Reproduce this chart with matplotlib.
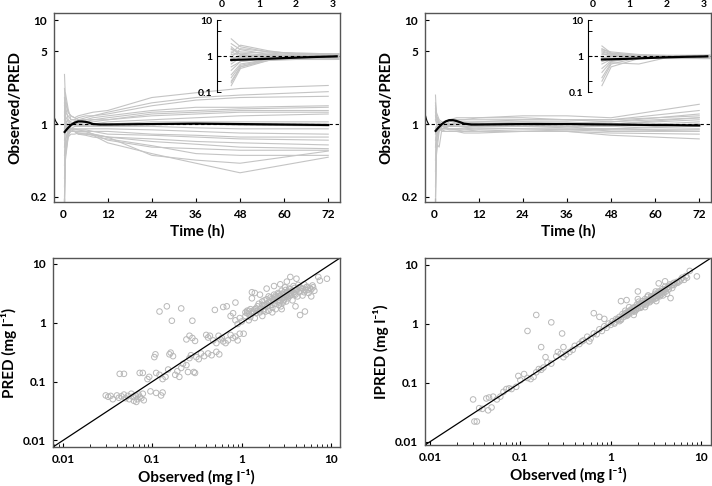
import matplotlib
matplotlib.use("Agg")
import matplotlib.pyplot as plt
from matplotlib.ticker import NullLocator, LogLocator, NullFormatter

plt.rcParams['font.family'] = ['Lato', 'DejaVu Sans']
plt.rcParams['font.weight'] = 'bold'
plt.rcParams['axes.labelweight'] = 'bold'

# ---- data ----
# sampling times (h) for individual profiles
times = [0.25, 0.5, 1.25, 2, 3, 4, 6, 8, 12, 24, 36, 48, 72]

# Observed/PRED per subject (left column)
pred_ratio = [
    [0.9, 1.6, 1.3, 1.2, 1.15, 1.2, 1.25, 1.3, 1.35, 1.8, 2.0, 2.2, 2.35],
    [1.2, 2.0, 1.4, 1.1, 1.1, 1.15, 1.2, 1.2, 1.3, 1.6, 1.8, 1.9, 2.05],
    [0.6, 0.9, 1.0, 1.0, 1.05, 1.1, 1.15, 1.2, 1.25, 1.5, 1.7, 1.8, 1.85],
    [3.0, 1.8, 1.3, 1.2, 1.15, 1.1, 1.1, 1.15, 1.2, 1.35, 1.45, 1.45, 1.5],
    [0.4, 0.7, 0.9, 1.0, 1.05, 1.1, 1.1, 1.1, 1.15, 1.3, 1.35, 1.4, 1.45],
    [1.5, 1.3, 1.2, 1.1, 1.1, 1.05, 1.05, 1.1, 1.1, 1.25, 1.3, 1.35, 1.35],
    [0.18, 0.5, 0.8, 0.95, 1.0, 1.0, 1.05, 1.05, 1.1, 1.2, 1.25, 1.3, 1.3],
    [2.2, 1.5, 1.1, 1.0, 1.0, 1.0, 1.0, 1.0, 1.05, 1.1, 1.15, 1.2, 1.25],
    [0.8, 1.0, 1.1, 1.05, 1.0, 1.0, 0.98, 1.0, 1.0, 1.05, 1.05, 1.05, 1.05],
    [1.1, 1.2, 1.05, 1.0, 0.98, 0.97, 0.97, 0.98, 1.0, 1.0, 1.0, 0.98, 0.96],
    [0.15, 0.45, 0.75, 0.9, 0.95, 0.95, 0.95, 0.95, 0.95, 0.95, 0.92, 0.9, 0.9],
    [0.5, 0.7, 0.85, 0.9, 0.9, 0.9, 0.9, 0.9, 0.9, 0.88, 0.85, 0.82, 0.8],
    [1.8, 1.1, 0.95, 0.9, 0.88, 0.88, 0.88, 0.85, 0.85, 0.8, 0.78, 0.75, 0.75],
    [0.3, 0.6, 0.8, 0.85, 0.85, 0.85, 0.85, 0.85, 0.8, 0.78, 0.75, 0.72, 0.7],
    [0.7, 0.9, 0.9, 0.85, 0.85, 0.8, 0.8, 0.8, 0.75, 0.72, 0.68, 0.66, 0.63],
    [1.3, 1.0, 0.9, 0.85, 0.85, 0.82, 0.8, 0.78, 0.75, 0.68, 0.64, 0.6, 0.58],
    [0.25, 0.55, 0.8, 0.85, 0.85, 0.85, 0.85, 0.8, 0.7, 0.6, 0.58, 0.56, 0.56],
    [0.9, 0.95, 0.9, 0.88, 0.85, 0.8, 0.78, 0.75, 0.72, 0.62, 0.52, 0.5, 0.5],
    [1.6, 1.1, 0.95, 0.9, 0.9, 0.88, 0.85, 0.8, 0.75, 0.5, 0.45, 0.42, 0.55],
    [0.2, 0.5, 0.75, 0.8, 0.8, 0.82, 0.82, 0.78, 0.66, 0.52, 0.42, 0.34, 0.48],
]

# Observed/IPRED per subject (right column)
ipred_ratio = [
    [1.5, 1.3, 1.1, 1.05, 1.05, 1.1, 1.15, 1.15, 1.15, 1.2, 1.2, 1.15, 1.55],
    [0.2, 0.6, 0.9, 1.0, 1.05, 1.1, 1.1, 1.1, 1.15, 1.15, 1.1, 1.1, 1.35],
    [1.9, 1.2, 1.05, 1.0, 1.0, 1.05, 1.1, 1.1, 1.1, 1.1, 1.1, 1.05, 1.25],
    [0.8, 0.95, 1.0, 1.0, 1.0, 1.0, 1.05, 1.05, 1.05, 1.1, 1.1, 1.1, 1.2],
    [0.15, 0.5, 0.85, 0.95, 0.98, 1.0, 1.02, 1.02, 1.05, 1.05, 1.05, 1.0, 1.15],
    [1.3, 1.1, 1.0, 0.98, 0.95, 0.97, 1.0, 1.0, 1.0, 1.05, 1.0, 1.0, 1.1],
    [0.6, 0.8, 0.9, 0.95, 0.95, 0.97, 0.98, 0.98, 1.0, 1.0, 1.0, 0.95, 1.05],
    [1.1, 1.05, 1.0, 0.95, 0.92, 0.95, 0.95, 0.95, 0.98, 0.98, 0.95, 0.95, 1.0],
    [0.35, 0.7, 0.9, 0.95, 0.95, 0.95, 0.95, 0.95, 0.95, 0.95, 0.92, 0.9, 0.95],
    [1.6, 1.2, 1.0, 0.95, 0.92, 0.9, 0.9, 0.9, 0.92, 0.9, 0.9, 0.88, 0.9],
    [0.9, 0.95, 0.95, 0.9, 0.9, 0.9, 0.88, 0.88, 0.9, 0.9, 0.88, 0.85, 0.85],
    [0.45, 0.75, 0.9, 0.9, 0.9, 0.88, 0.88, 0.85, 0.88, 0.85, 0.85, 0.82, 0.8],
    [1.2, 1.0, 0.9, 0.88, 0.85, 0.85, 0.85, 0.85, 0.85, 0.85, 0.85, 0.78, 0.72],
    [0.7, 0.85, 0.9, 0.85, 0.85, 0.85, 0.85, 0.82, 0.82, 0.85, 0.88, 0.9, 1.0],
    [1.4, 1.15, 1.05, 1.0, 1.0, 1.0, 1.0, 1.0, 1.02, 1.0, 1.02, 1.05, 1.15],
    [0.25, 0.65, 0.6, 0.9, 0.92, 0.9, 0.9, 0.92, 0.95, 0.95, 0.95, 0.85, 0.88],
]

# smoothed trend lines
trend_t = [0.3, 1, 2, 3, 4, 5, 6, 7, 8, 10, 12, 24, 36, 48, 60, 72]
trend_pred = [0.84, 0.9, 0.98, 1.03, 1.06, 1.06, 1.05, 1.03, 1.0, 0.99, 0.99, 1.0, 1.01, 1.0, 0.99, 0.98]
trend_ipred = [0.86, 0.92, 1.0, 1.06, 1.09, 1.09, 1.07, 1.04, 1.01, 0.99, 0.99, 1.0, 1.0, 0.99, 0.98, 0.97]
lead_t = [-2.5, -2.1, -1.7]
lead_pred = [1.15, 1.06, 1.01]
lead_ipred = [1.22, 1.08, 1.01]
inset_t = [0.25, 0.5, 1, 1.5, 2, 2.5, 3, 3.1]
inset_pred = [0.78, 0.79, 0.82, 0.86, 0.9, 0.94, 0.97, 0.98]
inset_ipred = [0.8, 0.81, 0.84, 0.88, 0.92, 0.95, 0.97, 0.98]

# observed vs PRED (mg/l)
obs_pred = [
    (0.030, 0.058), (0.032, 0.055), (0.034, 0.057), (0.036, 0.050), (0.040, 0.058), (0.042, 0.053),
    (0.045, 0.056), (0.048, 0.060), (0.050, 0.052), (0.053, 0.057), (0.055, 0.050), (0.058, 0.062),
    (0.060, 0.055), (0.062, 0.047), (0.065, 0.058), (0.068, 0.050), (0.070, 0.060), (0.072, 0.055),
    (0.075, 0.052), (0.078, 0.062), (0.080, 0.048), (0.066, 0.045),
    (0.043, 0.135), (0.048, 0.135), (0.072, 0.14), (0.078, 0.14), (0.088, 0.11), (0.092, 0.12),
    (0.095, 0.068), (0.11, 0.064), (0.125, 0.058), (0.13, 0.065),
    (0.105, 0.26), (0.108, 0.29), (0.11, 0.14), (0.12, 0.13), (0.13, 0.11), (0.14, 0.12), (0.15, 0.16),
    (0.155, 0.29), (0.16, 0.31), (0.17, 0.27), (0.18, 0.13), (0.19, 0.15), (0.2, 0.12), (0.21, 0.17),
    (0.22, 0.2), (0.24, 0.19), (0.25, 0.145), (0.26, 0.25), (0.27, 0.28), (0.29, 0.145), (0.3, 0.14),
    (0.31, 0.26), (0.33, 0.24), (0.35, 0.3), (0.38, 0.27), (0.42, 0.3), (0.46, 0.28), (0.52, 0.32),
    (0.56, 0.29),
    (0.12, 1.55), (0.145, 1.9), (0.165, 1.08), (0.21, 1.75), (0.28, 1.08), (0.5, 1.65), (0.62, 1.85),
    (0.68, 1.9), (0.85, 2.2),
    (0.24, 0.52), (0.26, 0.6), (0.28, 0.55), (0.3, 0.49), (0.4, 0.62), (0.42, 0.56), (0.44, 0.6),
    (0.55, 0.6), (0.58, 0.52), (0.6, 0.55), (0.62, 0.48), (0.66, 0.45), (0.7, 0.5), (0.75, 0.62),
    (0.8, 0.55), (0.85, 0.58), (0.9, 0.5), (0.95, 0.65), (0.48, 0.5), (0.52, 0.45),
    (0.75, 1.3), (0.8, 1.45), (0.85, 1.1), (0.9, 0.95), (0.95, 1.2), (1.0, 1.05), (1.05, 0.65),
    (1.1, 1.5), (1.15, 1.6), (1.2, 1.4), (1.25, 1.7), (1.3, 2.6), (1.35, 1.5), (1.4, 3.2), (1.45, 1.45),
    (1.5, 1.6), (1.55, 2.1), (1.6, 1.5), (1.65, 1.8), (1.7, 2.3), (1.75, 1.7), (1.8, 2.0), (1.85, 1.55),
    (1.9, 2.5), (1.95, 1.9), (2.0, 2.2), (2.0, 1.6), (2.1, 2.7), (2.15, 2.0), (2.2, 1.8), (2.25, 2.4),
    (2.3, 3.0), (2.35, 2.1), (2.4, 1.7), (2.45, 2.6), (2.5, 2.3), (2.55, 3.2), (2.6, 2.0), (2.65, 2.8),
    (2.7, 2.4), (2.75, 1.9), (2.8, 3.5), (2.85, 2.6), (2.9, 2.2), (2.95, 3.0), (3.0, 2.5), (3.05, 4.0),
    (3.1, 2.8), (3.15, 2.3), (3.2, 3.3), (3.3, 2.6), (3.4, 3.8), (3.5, 2.9), (3.5, 6.0), (3.6, 3.4),
    (3.7, 2.4), (3.8, 4.2), (3.9, 3.1), (4.0, 3.6), (4.0, 1.9), (4.1, 5.6), (4.2, 2.8), (4.3, 4.4),
    (4.4, 3.3), (4.5, 1.35), (4.6, 3.9), (4.8, 2.9), (5.0, 4.5), (5.1, 1.55), (5.2, 3.6), (5.4, 4.1),
    (5.6, 3.2), (5.8, 3.9), (6.0, 2.8), (6.2, 4.3), (6.5, 3.5), (7.2, 6.0), (7.5, 5.2), (9.0, 5.6),
    (1.3, 3.3), (1.6, 3.0), (1.9, 3.8), (2.3, 4.2), (2.7, 4.5), (3.2, 5.0),
    (1.2, 1.1), (1.4, 1.2), (1.7, 1.3), (2.2, 1.5), (2.8, 1.7),
    (1.1, 1.3), (1.2, 1.6), (1.3, 1.45), (1.4, 1.7), (1.5, 1.9), (1.6, 1.7), (1.7, 2.0), (1.8, 2.4),
    (1.9, 2.1), (2.0, 2.8), (2.1, 2.3), (2.2, 2.6), (2.3, 2.5), (2.4, 2.9), (2.5, 2.7), (2.6, 3.1),
    (2.7, 2.9), (2.8, 3.1), (2.9, 2.7), (3.0, 3.3), (3.1, 3.6), (3.2, 3.0), (3.3, 3.4), (3.4, 2.9),
    (3.5, 3.7), (3.6, 3.0), (3.7, 3.5), (3.8, 3.3), (3.9, 3.9), (4.0, 3.0), (4.2, 3.7), (4.4, 4.0),
    (4.6, 3.5), (4.8, 3.8), (5.0, 3.3), (5.3, 4.0), (5.5, 3.6), (6.0, 3.7), (6.3, 4.0), (1.25, 1.25),
    (1.45, 1.75), (1.75, 1.6), (2.05, 1.95), (2.35, 2.7), (2.65, 2.2), (2.95, 2.4), (3.25, 2.8),
    (3.55, 3.2), (1.15, 1.45), (1.35, 1.6),
]

# observed vs IPRED (mg/l)
obs_ipred = [
    (0.03, 0.052), (0.031, 0.022), (0.033, 0.022), (0.035, 0.037), (0.038, 0.036), (0.042, 0.054),
    (0.044, 0.034), (0.045, 0.056), (0.048, 0.038), (0.05, 0.058), (0.055, 0.052), (0.06, 0.058),
    (0.065, 0.07), (0.07, 0.078), (0.075, 0.08), (0.08, 0.078), (0.09, 0.085), (0.095, 0.13),
    (0.1, 0.11), (0.11, 0.14), (0.12, 0.12), (0.13, 0.115), (0.14, 0.125), (0.15, 0.15), (0.16, 0.17),
    (0.17, 0.165), (0.18, 0.18), (0.2, 0.22), (0.22, 0.21), (0.25, 0.28), (0.26, 0.33), (0.28, 0.31),
    (0.3, 0.27), (0.32, 0.3), (0.35, 0.33), (0.38, 0.36), (0.4, 0.42), (0.45, 0.45), (0.48, 0.5),
    (0.5, 0.52), (0.55, 0.6), (0.58, 0.5), (0.6, 0.56), (0.65, 0.68), (0.7, 0.66), (0.75, 0.8),
    (0.8, 0.75), (0.85, 0.9), (0.9, 0.85), (0.95, 1.0), (1.0, 0.95), (1.05, 1.1),
    (0.12, 0.75), (0.15, 1.4), (0.17, 0.4), (0.19, 0.27), (0.22, 1.05), (0.29, 0.68), (0.3, 0.4),
    (0.65, 1.5), (0.75, 1.3), (0.85, 1.2), (1.3, 2.4), (1.5, 2.5), (2.0, 3.5), (9.0, 6.3), (7.5, 7.8),
    (1.1, 1.0), (1.15, 1.2), (1.2, 1.15), (1.25, 1.3), (1.3, 1.2), (1.35, 1.45), (1.4, 1.3),
    (1.45, 1.5), (1.5, 1.35), (1.55, 1.6), (1.6, 1.5), (1.65, 1.7), (1.7, 1.55), (1.75, 1.85),
    (1.8, 1.65), (1.85, 1.9), (1.9, 1.7), (1.95, 2.1), (2.0, 1.8), (2.1, 2.2), (2.2, 1.95),
    (2.25, 2.4), (2.3, 2.1), (2.4, 2.6), (2.5, 2.2), (2.6, 2.5), (2.7, 2.3), (2.8, 2.9), (2.9, 2.5),
    (3.0, 2.8), (3.1, 3.2), (3.2, 2.7), (3.3, 3.0), (3.4, 3.5), (3.5, 2.9), (3.6, 3.3), (3.7, 3.8),
    (3.8, 3.0), (3.9, 3.4), (4.0, 4.2), (4.1, 3.5), (4.2, 3.2), (4.4, 3.8), (4.5, 4.6), (4.6, 2.7),
    (4.8, 4.0), (5.0, 4.5), (5.2, 4.8), (5.5, 4.9), (5.8, 5.2), (6.0, 5.6), (6.5, 5.5), (7.0, 6.0),
    (2.0, 2.6), (2.6, 3.0), (1.6, 1.9), (3.4, 4.8), (4.0, 5.2), (1.8, 1.4), (2.4, 1.9), (3.2, 2.4),
    (1.1, 1.05), (1.2, 1.2), (1.3, 1.15), (1.4, 1.4), (1.5, 1.45), (1.6, 1.6), (1.7, 1.65),
    (1.8, 1.8), (1.9, 1.8), (2.0, 2.0), (2.1, 1.9), (2.2, 2.15), (2.3, 2.2), (2.4, 2.3), (2.5, 2.45),
    (2.6, 2.4), (2.7, 2.6), (2.8, 2.6), (2.9, 2.8), (3.0, 2.9), (3.1, 2.9), (3.2, 3.1), (3.3, 3.2),
    (3.4, 3.1), (3.5, 3.3), (3.6, 3.5), (3.7, 3.4), (3.8, 3.6), (3.9, 3.7), (4.0, 3.8), (4.2, 4.0),
    (4.4, 4.2), (4.6, 4.4), (4.8, 4.5), (5.0, 4.9), (5.4, 5.1), (6.2, 6.0), (6.8, 6.4), (1.25, 1.1),
    (1.55, 1.4), (1.85, 1.6), (2.15, 1.85), (2.45, 2.1), (2.75, 2.4), (3.05, 2.6), (3.35, 2.9),
    (3.65, 3.1), (1.45, 1.65), (2.05, 2.35), (2.55, 2.85), (3.15, 3.5),
]

GREY = '#c4c4c4'
TICK_FS = 8.5
LABEL_FS = 11

fig = plt.figure(figsize=(7.12, 4.86), dpi=100)


def box(left, top, right, bottom):
    # pixel box -> figure fraction
    return [left / 712, 1 - bottom / 486, (right - left) / 712, (bottom - top) / 486]


def style(ax):
    for s in ax.spines.values():
        s.set_linewidth(1.0)
        s.set_color('#555555')
    ax.tick_params(direction='in', labelsize=TICK_FS, length=3, width=0.8, pad=5)
    ax.tick_params(which='minor', direction='in', length=2, width=0.6)


def time_panel(rect, ins_rect, ratios, trend, lead, ins_trend, xlim_ins, ylabel):
    ax = fig.add_axes(rect)
    for r in ratios:
        ax.plot(times, r, color=GREY, lw=0.8)
    ax.axhline(1, color='black', lw=0.8, ls=(0, (3, 2.5)))
    ax.plot(trend_t, trend, color='black', lw=1.6)
    ax.plot(lead_t, lead, color='black', lw=0.8)
    ax.set_yscale('log')
    ax.set_xlim(-2.6, 75.2)
    ax.set_ylim(0.178, 11.7)
    ax.set_yticks([0.2, 1, 5, 10], ['0.2', '1', '5', '10'])
    ax.yaxis.set_minor_locator(NullLocator())
    ax.set_xticks([0, 12, 24, 36, 48, 60, 72])
    ax.set_xlabel('Time (h)', fontsize=LABEL_FS, labelpad=3)
    ax.set_ylabel(ylabel, fontsize=LABEL_FS, labelpad=6)
    style(ax)

    ins = fig.add_axes(ins_rect)
    ins.patch.set_alpha(0)
    for r in ratios:
        ins.plot(times, r, color=GREY, lw=0.8, clip_on=True)
    ins.axhline(1, color='black', lw=0.8, ls=(0, (3, 2.5)))
    ins.plot(inset_t, ins_trend, color='black', lw=1.6)
    ins.set_yscale('log')
    ins.set_xlim(*xlim_ins)
    ins.set_ylim(0.1, 10)
    for side in ('top', 'right', 'bottom'):
        ins.spines[side].set_visible(False)
    ins.spines['left'].set_linewidth(0.8)
    ins.set_yticks([0.1, 0.2, 1, 5, 10], ['0.1', '', '1', '', '10'])
    ins.yaxis.set_minor_locator(NullLocator())
    ins.tick_params(axis='y', direction='in', labelsize=7.5, length=3, width=0.7, pad=3)
    ins.xaxis.tick_top()
    ins.set_xticks([0, 1, 2, 3])
    ins.tick_params(axis='x', length=0, labelsize=7.5, pad=8)
    return ax


time_panel(box(54, 13, 340, 202), box(217, 20, 340, 92), pred_ratio, trend_pred,
           lead_pred, inset_pred, (-0.135, 3.19), 'Observed/PRED')
time_panel(box(425, 13, 711, 202), box(588, 20, 711, 92), ipred_ratio, trend_ipred,
           lead_ipred, inset_ipred, (-0.127, 3.2), 'Observed/PRED')


def scatter_panel(rect, pairs, lims, ylabel):
    ax = fig.add_axes(rect)
    xs = [p[0] for p in pairs]
    ys = [p[1] for p in pairs]
    ax.scatter(xs, ys, s=16, facecolors='none', edgecolors='#b8b8b8', linewidths=0.7)
    ax.plot(lims, lims, color='black', lw=0.9)
    ax.set_xscale('log')
    ax.set_yscale('log')
    ax.set_xlim(*lims)
    ax.set_ylim(*lims)
    ticks = [0.01, 0.1, 1, 10]
    labels = ['0.01', '0.1', '1', '10']
    ax.set_xticks(ticks, labels)
    ax.set_yticks(ticks, labels)
    ax.xaxis.set_minor_locator(LogLocator(subs=range(2, 10)))
    ax.xaxis.set_minor_formatter(NullFormatter())
    ax.yaxis.set_minor_locator(NullLocator())
    ax.set_xlabel('Observed (mg l⁻¹)', fontsize=LABEL_FS, labelpad=3)
    ax.set_ylabel(ylabel, fontsize=LABEL_FS, labelpad=4)
    style(ax)
    return ax


scatter_panel(box(53, 258, 340, 447), obs_pred, (0.0077, 12.6), 'PRED (mg l⁻¹)')
scatter_panel(box(425, 258, 711, 445), obs_ipred, (0.0088, 12.9), 'IPRED (mg l⁻¹)')

fig.savefig('out.png', dpi=100)
